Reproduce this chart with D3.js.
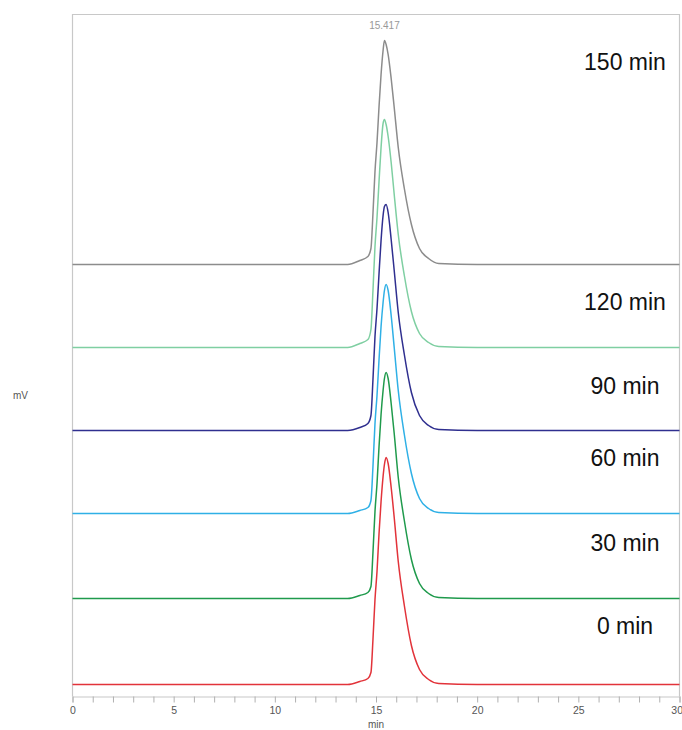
<!DOCTYPE html>
<html>
<head>
<meta charset="utf-8">
<script src="https://cdn.jsdelivr.net/npm/d3@7/dist/d3.min.js"></script>
<style>
  html, body { margin: 0; padding: 0; background: #fff; }
  svg { display: block; }
</style>
</head>
<body>
<svg id="chart" width="682" height="730"></svg>
<script>
// Retention time grid (min) shared by all traces
const times = [0, 5, 10, 13.6, 14.2, 14.6, 14.75, 14.85, 14.95, 15.05, 15.15, 15.25, 15.35, 15.417, 15.5, 15.6, 15.75, 15.9, 16.1, 16.4, 16.75, 17.15, 17.6, 18.1, 20, 25, 30];

// Detector signal above each trace's own baseline (mV)
const sig0   = [0, 0, 0, 0, 3, 6, 12, 45, 85, 113, 151, 183, 208, 220, 227, 221, 197, 167, 123, 79, 39, 15, 5, 1, 0, 0, 0];
const sig30  = [0, 0, 0, 0, 3, 6, 12, 46, 87, 115, 152, 184, 208, 220, 226, 220, 195, 165, 121, 78, 39, 15, 5, 1, 0, 0, 0];
const sig60  = [0, 0, 0, 0, 3, 6, 13, 47, 90, 118, 154, 187, 211, 223, 229, 223, 198, 166, 123, 79, 40, 15, 5, 1, 0, 0, 0];
const sig90  = [0, 0, 0, 0, 3, 7, 15, 51, 94, 122, 157, 190, 215, 224, 226, 218, 191, 160, 118, 76, 38, 15, 5, 1, 0, 0, 0];
const sig120 = [0, 0, 0, 0, 4, 8, 18, 57, 101, 130, 166, 200, 224, 228, 223, 211, 185, 153, 113, 72, 36, 14, 5, 1, 0, 0, 0];
const sig150 = [0, 0, 0, 0, 4, 8, 16, 51, 93, 122, 158, 190, 214, 224, 220, 210, 186, 157, 117, 76, 40, 16, 6, 1, 0, 0, 0];

// Sampling times, vertical stacking offsets (mV) and trace colours
const labels   = ["0 min", "30 min", "60 min", "90 min", "120 min", "150 min"];
const offsets  = [12, 98, 183, 266, 349, 432];
const colors   = ["#e2333a", "#1f9a4c", "#2fb0e6", "#2f2f8f", "#7fcfa2", "#8c8c8c"];
const series   = [sig0, sig30, sig60, sig90, sig120, sig150];

// Axis ticks
const xTicks = d3.range(0, 31, 1);
const xLabelTicks = [0, 5, 10, 15, 20, 25, 30];
const apexTime = 15.417;

const svg = d3.select("#chart");
const margin = { left: 72.5, right: 2.5, top: 14.5, bottom: 33.5 };
const W = 682, H = 730;

const x = d3.scaleLinear().domain([0, 30]).range([margin.left, W - margin.right]);
const y = d3.scaleLinear().domain([0, 682]).range([H - margin.bottom, margin.top]);

// Frame (left, top, right)
const frame = svg.append("g").attr("stroke", "#c8c8c8").attr("stroke-width", 1.2).attr("fill", "none");
frame.append("path").attr("d", `M${x(0)},${y(0)}V${y(682)}H${x(30)}V${y(0)}`);

// Bottom axis
const xAxis = d3.axisBottom(x)
  .tickValues(xTicks)
  .tickSize(6)
  .tickPadding(4)
  .tickFormat(d => xLabelTicks.includes(d) ? d : "");
const gx = svg.append("g").attr("transform", `translate(0,${y(0)})`).call(xAxis);
gx.select(".domain").attr("stroke", "#c8c8c8").attr("stroke-width", 1.2);
gx.selectAll(".tick line").attr("stroke", "#b0b0b0");
gx.selectAll(".tick text")
  .attr("fill", "#555")
  .attr("font-family", "Liberation Sans, Arial, sans-serif")
  .attr("font-size", 10.5)
  .attr("dy", "0.72em");
// keep the last label inside the frame edge
gx.selectAll(".tick text").filter(d => d === 30)
  .attr("text-anchor", "end").attr("dx", 3);

svg.append("text")
  .attr("x", x(15)).attr("y", 728)
  .attr("text-anchor", "middle")
  .attr("font-family", "Liberation Sans, Arial, sans-serif")
  .attr("font-size", 10).attr("fill", "#555")
  .text("min");

svg.append("text")
  .attr("x", 13).attr("y", 399)
  .attr("font-family", "Liberation Sans, Arial, sans-serif")
  .attr("font-size", 10).attr("fill", "#555")
  .text("mV");

// Traces
const line = d3.line().curve(d3.curveMonotoneX);
series.forEach((vals, i) => {
  const pts = times.map((t, k) => [x(t), y(offsets[i] + vals[k])]);
  svg.append("path")
    .attr("d", line(pts))
    .attr("fill", "none")
    .attr("stroke", colors[i])
    .attr("stroke-width", 1.5)
    .attr("stroke-linejoin", "round");
});

// Apex annotation on the top trace
svg.append("text")
  .attr("x", x(apexTime)).attr("y", 29)
  .attr("text-anchor", "middle")
  .attr("font-family", "Liberation Sans, Arial, sans-serif")
  .attr("font-size", 10).attr("fill", "#999")
  .text(apexTime.toFixed(3));

// Sample time labels
const labelY = [626, 543, 458, 386, 302, 62];
labels.forEach((t, i) => {
  svg.append("text")
    .attr("x", 625).attr("y", labelY[i])
    .attr("dy", "0.35em")
    .attr("text-anchor", "middle")
    .attr("font-family", "Liberation Sans, Arial, Helvetica, sans-serif")
    .attr("font-size", 23).attr("fill", "#111")
    .text(t);
});
</script>
</body>
</html>
